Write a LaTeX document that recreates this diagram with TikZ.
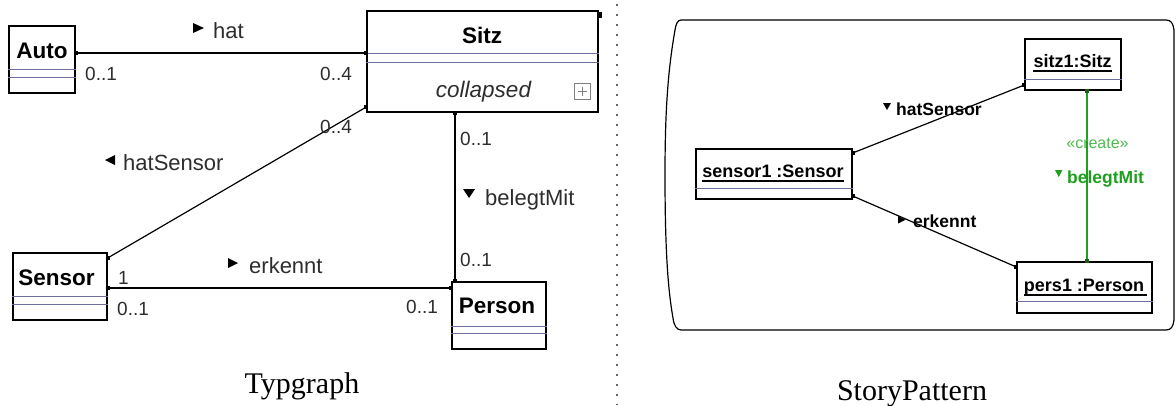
\documentclass[tikz,border=0pt]{standalone}
\usepackage{fontspec}
\setmainfont{Liberation Serif}
\setsansfont{Liberation Sans}
\usetikzlibrary{calc}
\definecolor{sepblue}{RGB}{110,110,160}
\definecolor{labgray}{RGB}{45,45,45}
\definecolor{umlgreen}{RGB}{30,160,30}
\definecolor{creategreen}{RGB}{80,185,80}
\newcommand\tipsq[2][black]{\fill[#1] ($(#2)+(-2,-2)$) rectangle ($(#2)+(2,2)$);}
\begin{document}
\begin{tikzpicture}[x=1pt,y=-1pt,
  umlbox/.style={draw=black, line width=1.3pt, rectangle, inner sep=0pt},
  title/.style={font=\sffamily\bfseries\fontsize{22.5}{26}\selectfont, inner sep=0pt, anchor=base},
  objtitle/.style={font=\sffamily\bfseries\fontsize{18}{22}\selectfont, inner sep=0pt, anchor=base},
  lab/.style={font=\sffamily\fontsize{22}{26}\selectfont, text=labgray, inner sep=0pt, anchor=base west},
  blab/.style={font=\sffamily\bfseries\fontsize{17.5}{21}\selectfont, inner sep=0pt, anchor=base west},
  mult/.style={font=\sffamily\fontsize{19}{22}\selectfont, text=labgray, inner sep=0pt, anchor=base west},
  caption/.style={font=\rmfamily\fontsize{30}{34}\selectfont, inner sep=0pt, anchor=base},
  sepline/.style={draw=sepblue, line width=1pt},
  uline/.style={draw=black, line width=1.2pt},
  conn/.style={line width=1.2pt},
  tri/.style={fill=black}
]
\useasboundingbox (0,0) rectangle (1176,405);

% ---------- left: Typgraph ----------
\node[umlbox, minimum width=66pt, minimum height=67pt] (auto) at (42,59.5) {};
\node[title] (autot) at (42,58) {Auto};
\draw[sepline] (auto.west |- 0,69) -- (auto.east |- 0,69);
\draw[sepline] (auto.west |- 0,77) -- (auto.east |- 0,77);

\node[umlbox, minimum width=231pt, minimum height=101pt] (sitz) at (482.5,61.5) {};
\node[title] (sitzt) at (482,43) {Sitz};
\draw[sepline] (sitz.west |- 0,53) -- (sitz.east |- 0,53);
\draw[sepline] (sitz.west |- 0,62) -- (sitz.east |- 0,62);
\node[font=\sffamily\itshape\fontsize{22.5}{26}\selectfont, text=labgray, inner sep=0pt, anchor=base] (coll) at (483.5,97) {collapsed};
\draw[gray, line width=0.8pt] (574,83) rectangle (590,99);
\draw[gray, line width=0.8pt] (577.5,91) -- (586.5,91) (582,86.5) -- (582,95.5);
\fill (597,12) rectangle (602,18);

\node[umlbox, minimum width=94pt, minimum height=67pt] (sensor) at (60,286.5) {};
\node[title] (sensort) at (56.5,285) {Sensor};
\draw[sepline] (sensor.west |- 0,296) -- (sensor.east |- 0,296);
\draw[sepline] (sensor.west |- 0,304) -- (sensor.east |- 0,304);

\node[umlbox, minimum width=94pt, minimum height=67pt] (person) at (499,315.5) {};
\node[title] (persont) at (497,313) {Person};
\draw[sepline] (person.west |- 0,326) -- (person.east |- 0,326);
\draw[sepline] (person.west |- 0,333) -- (person.east |- 0,333);

% connector end points
\coordinate (c1a) at (auto.east |- 0,53);
\coordinate (c1b) at (sitz.west |- 0,53);
\coordinate (c2a) at (sitz.west |- 0,107);
\coordinate (c2b) at (sensor.east |- 0,258);
\coordinate (c3a) at (sitz.south -| 455,0);
\coordinate (c3b) at (person.north -| 455,0);
\coordinate (c4a) at (sensor.east |- 0,288);
\coordinate (c4b) at (person.west |- 0,288);

\draw[conn] (c1a) -- (c1b);
\draw[conn] (c2a) -- (c2b);
\draw[conn] (c3a) -- (c3b);
\draw[conn] (c4a) -- (c4b);
\tipsq{c1a}\tipsq{c1b}\tipsq{c2a}\tipsq{c2b}
\tipsq{c3a}\tipsq{c3b}\tipsq{c4a}\tipsq{c4b}

% association labels
\fill[tri] (193,23) -- (193,33) -- (204,28) -- cycle;
\node[lab] (hatl) at (213,38) {hat};
\fill[tri] (115,155) -- (115,165) -- (105,160) -- cycle;
\node[lab] (hsl) at (123,170) {hatSensor};
\fill[tri] (463,189) -- (475,189) -- (469,198) -- cycle;
\node[lab] (bml) at (485,205) {belegtMit};
\fill[tri] (228,258) -- (228,268) -- (238,263) -- cycle;
\node[lab] (erl) at (249,273) {erkennt};

% multiplicities
\node[mult] (m1) at (85,80) {0..1};
\node[mult] (m2) at (320,80) {0..4};
\node[mult] (m3) at (320,133) {0..4};
\node[mult] (m4) at (460,145) {0..1};
\node[mult] (m5) at (460,266) {0..1};
\node[mult] (m6) at (118,284) {1};
\node[mult] (m7) at (117,315) {0..1};
\node[mult] (m8) at (406,313) {0..1};

\node[caption] (typ) at (302,393) {Typgraph};

% separator
\draw[gray!80!black, line width=1.7pt, dash pattern=on 1.7pt off 8.3pt] (617,4) -- (617,405);

% ---------- right: StoryPattern ----------
\draw[line width=1.2pt] (1166,20) -- (681,20)
  .. controls (677.5,20) and (676,24) .. (675,30)
  .. controls (668,70) and (665,110) .. (665,175)
  .. controls (665,250) and (668,290) .. (673,318)
  .. controls (674,326) and (677,330) .. (681,330)
  -- (1166,330)
  .. controls (1171,330) and (1173,327) .. (1174,320)
  -- (1174,30)
  .. controls (1173,23) and (1171,20) .. (1166,20) -- cycle;

\node[umlbox, fill=white, minimum width=96pt, minimum height=51pt] (sitzone) at (1073,64.5) {};
\node[objtitle] (sitzonet) at (1072.5,67) {sitz1:Sitz};
\draw[uline] ([yshift=-4pt]sitzonet.base west) -- ([yshift=-4pt]sitzonet.base east);
\draw[sepline] (sitzone.west |- 0,79) -- (sitzone.east |- 0,79);

\node[umlbox, fill=white, minimum width=156pt, minimum height=50pt] (sensorone) at (774,174) {};
\node[objtitle] (sensoronet) at (773,177) {sensor1 :Sensor};
\draw[uline] ([yshift=-4pt]sensoronet.base west) -- ([yshift=-4pt]sensoronet.base east);
\draw[sepline] (sensorone.west |- 0,188) -- (sensorone.east |- 0,188);

\node[umlbox, fill=white, minimum width=135pt, minimum height=51pt] (persone) at (1084.5,287.5) {};
\node[objtitle] (personet) at (1084,291) {pers1 :Person};
\draw[uline] ([yshift=-4pt]personet.base west) -- ([yshift=-4pt,xshift=3pt]personet.base east);
\draw[sepline] (persone.west |- 0,301) -- (persone.east |- 0,301);

\coordinate (d1a) at (sensorone.east |- 0,153);
\coordinate (d1b) at (sitzone.west |- 0,85);
\coordinate (d2a) at (sensorone.east |- 0,196);
\coordinate (d2b) at (persone.west |- 0,267);
\coordinate (d3a) at (sitzone.south -| 1087,0);
\coordinate (d3b) at (persone.north -| 1087,0);

\draw[conn] (d1a) -- (d1b);
\draw[conn] (d2a) -- (d2b);
\draw[conn, draw=umlgreen] (d3a) -- (d3b);
\tipsq{d1a}\tipsq{d1b}\tipsq{d2a}\tipsq{d2b}
\tipsq[umlgreen!60!black]{d3a}\tipsq[umlgreen!60!black]{d3b}

\fill[tri] (883,103) -- (891,103) -- (887,110) -- cycle;
\node[blab] (hs2) at (896,115) {hatSensor};
\fill[tri] (898,216) -- (898,223.5) -- (905.5,219.75) -- cycle;
\node[blab] (er2) at (913,227) {erkennt};
\node[font=\sffamily\fontsize{16}{19}\selectfont, text=creategreen, inner sep=0pt, anchor=base] (cr) at (1097.5,148) {«create»};
\fill[umlgreen] (1055,170) -- (1062.5,170) -- (1058.75,177) -- cycle;
\node[blab, text=umlgreen] (bm2) at (1067,183) {belegtMit};

\node[caption] (sp) at (912,400) {StoryPattern};
\end{tikzpicture}
\end{document}
